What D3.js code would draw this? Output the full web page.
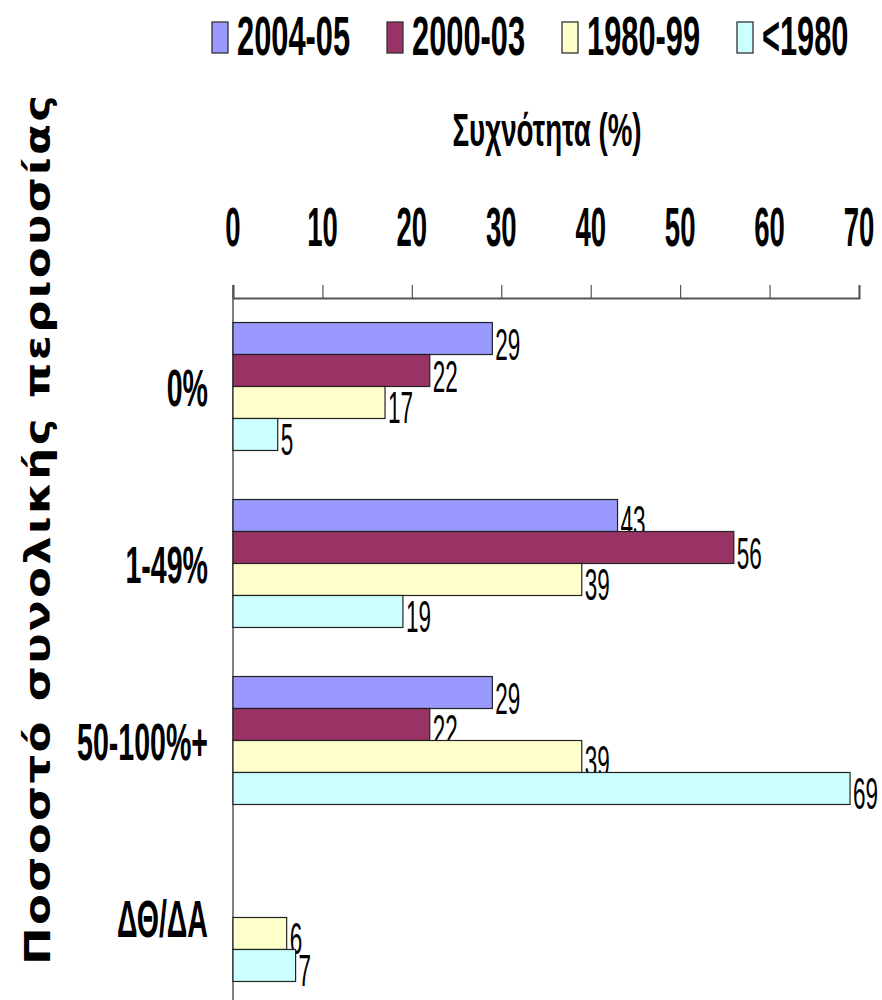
<!DOCTYPE html>
<html>
<head>
<meta charset="utf-8">
<script src="https://cdn.jsdelivr.net/npm/d3@7"></script>
<style>
  body { margin: 0; background: #fff; }
  svg { display: block; }
</style>
</head>
<body>
<div id="my_dataviz"></div>
<script>
// data
var categories = ["0%", "1-49%", "50-100%+", "ΔΘ/ΔΑ"];
var seriesNames = ["2004-05", "2000-03", "1980-99", "<1980"];
var v2004 = [29, 43, 29, null];
var v2000 = [22, 56, 22, null];
var v1980 = [17, 39, 39, 6];
var vOld = [5, 19, 69, 7];
var tickValues = [0, 10, 20, 30, 40, 50, 60, 70];
var xTitle = "Συχνότητα (%)";
var yTitle = "Ποσοστό  συνολικής  περιουσίας";

var seriesValues = [v2004, v2000, v1980, vOld];
var colors = ["#9999ff", "#993366", "#ffffcc", "#ccffff"];

var width = 882, height = 1000;
var plotLeft = 233, plotRight = 859, plotTop = 298;

var svg = d3.select("#my_dataviz")
    .append("svg")
    .attr("width", width)
    .attr("height", height);

// helper: squeezed text like the condensed fonts in the picture
function label(x, y, str, size, sx, bold, anchor) {
    return svg.append("text")
        .attr("transform", "translate(" + x + "," + y + ") scale(" + sx + ",1)")
        .attr("text-anchor", anchor || "start")
        .style("font-family", "'Liberation Sans', Arial, sans-serif")
        .style("font-size", size + "px")
        .style("font-weight", bold ? "bold" : "normal")
        .style("fill", "#000")
        .text(str);
}

var x = d3.scaleLinear()
    .domain([0, 70])
    .range([plotLeft, plotRight]);

var y = d3.scaleBand()
    .domain(categories)
    .range([plotTop, plotTop + 4 * 177])
    .paddingInner(0.277)
    .paddingOuter(0.1385);

var ys = d3.scaleBand()
    .domain(seriesNames)
    .range([0, y.bandwidth()]);

// top axis, ticks pointing up
var xAxis = svg.append("g")
    .attr("transform", "translate(0," + plotTop + ")")
    .call(d3.axisTop(x).tickValues(tickValues).tickSize(13).tickSizeOuter(13).tickFormat(""));
xAxis.select(".domain").attr("stroke", "#555").attr("stroke-width", 2);
xAxis.selectAll(".tick line").attr("stroke", "#555").attr("stroke-width", 1.2);

tickValues.forEach(function(t) {
    label(x(t), 246, t, 55, 0.5, true, "middle");
});

// vertical axis line
svg.append("line")
    .attr("x1", plotLeft).attr("x2", plotLeft)
    .attr("y1", plotTop - 13).attr("y2", height)
    .attr("stroke", "#555")
    .attr("stroke-width", 1.5);

// bars
seriesNames.forEach(function(s, i) {
    var rows = categories.map(function(c, j) { return { cat: c, v: seriesValues[i][j] }; })
        .filter(function(d) { return d.v != null; });

    svg.append("g")
        .selectAll("rect")
        .data(rows)
        .enter()
        .append("rect")
            .attr("x", x(0))
            .attr("y", function(d) { return y(d.cat) + ys(s); })
            .attr("width", function(d) { return x(d.v) - x(0); })
            .attr("height", ys.bandwidth())
            .style("fill", colors[i])
            .style("stroke", "#222")
            .style("stroke-width", 1.2);

    rows.forEach(function(d) {
        label(x(d.v) + 3, y(d.cat) + ys(s) + ys.bandwidth() / 2 + 21, d.v, 45, 0.5, false, "start");
    });
});

// category labels
categories.forEach(function(c) {
    label(208, y(c) + y.bandwidth() / 2 + 19, c, 51, 0.56, true, "end");
});

// axis title
label(547, 146, xTitle, 47, 0.59, true, "middle");

// rotated left title: a bit stretched, the rest as letter spacing
var stretch = 1.25;
svg.append("text")
    .attr("transform", "translate(50,530) rotate(-90) scale(" + stretch + ",1)")
    .attr("text-anchor", "middle")
    .attr("textLength", 870 / stretch)
    .attr("lengthAdjust", "spacing")
    .style("font-family", "'DejaVu Sans', Verdana, sans-serif")
    .style("font-size", "36px")
    .style("font-weight", "bold")
    .text(yTitle);

// legend
seriesNames.forEach(function(s, i) {
    var lx = 212 + i * 175;
    svg.append("rect")
        .attr("x", lx)
        .attr("y", 22)
        .attr("width", 16)
        .attr("height", 31)
        .style("fill", colors[i])
        .style("stroke", "#333")
        .style("stroke-width", 1.3);
    label(lx + 25, 55, s, 55, 0.56, true, "start");
});
</script>
</body>
</html>
